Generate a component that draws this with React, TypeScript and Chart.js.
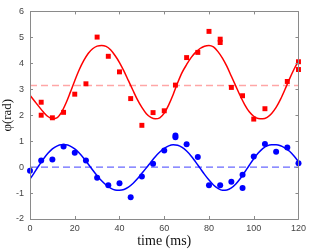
import React, { useEffect, useRef } from "react";
import { Chart, registerables } from "chart.js";

Chart.register(...registerables);

// Measurement times (ms)
const redTimes = [5, 5, 10, 15, 20, 25, 30, 35, 40, 45, 50, 55, 60, 65, 70, 75, 80, 85, 85, 90, 95, 100, 105, 115, 120, 120];
const redValues = [2.5, 2.0, 1.9, 2.11, 2.81, 3.21, 5.01, 4.27, 3.67, 2.64, 1.61, 2.1, 2.17, 3.16, 4.22, 4.42, 5.23, 4.93, 4.8, 3.07, 2.75, 1.85, 2.25, 3.3, 4.06, 3.76];

const blueTimes = [0, 5, 10, 15, 20, 25, 30, 35, 40, 45, 50, 55, 60, 65, 65, 70, 75, 80, 85, 90, 95, 95, 100, 105, 110, 115, 120];
const blueValues = [-0.14, 0.25, 0.29, 0.79, 0.55, 0.25, -0.41, -0.7, -0.62, -1.16, -0.36, 0.13, 0.64, 1.22, 1.15, 0.88, 0.39, -0.7, -0.7, -0.56, -0.29, -0.81, 0.41, 0.89, 0.59, 0.76, 0.15];

// Fitted curves, sampled every 2 ms
const fitTimes = [0, 2, 4, 6, 8, 10, 12, 14, 16, 18, 20, 22, 24, 26, 28, 30, 32, 34, 36, 38, 40, 42, 44, 46, 48, 50, 52, 54, 56, 58, 60, 62, 64, 66, 68, 70, 72, 74, 76, 78, 80, 82, 84, 86, 88, 90, 92, 94, 96, 98, 100, 102, 104, 106, 108, 110, 112, 114, 116, 118, 120];
const redFit = [2.77, 2.55, 2.33, 2.12, 1.95, 1.87, 1.9, 2.1, 2.45, 2.88, 3.33, 3.75, 4.1, 4.38, 4.56, 4.66, 4.69, 4.65, 4.52, 4.3, 4.03, 3.7, 3.33, 2.96, 2.6, 2.3, 2.06, 1.92, 1.86, 1.9, 2.08, 2.4, 2.8, 3.25, 3.65, 3.95, 4.22, 4.42, 4.57, 4.66, 4.69, 4.63, 4.45, 4.2, 3.88, 3.5, 3.12, 2.74, 2.4, 2.13, 1.96, 1.87, 1.86, 1.92, 2.07, 2.3, 2.62, 3.0, 3.4, 3.77, 4.09];
const blueFit = [-0.47, -0.2, 0.06, 0.31, 0.53, 0.7, 0.81, 0.86, 0.86, 0.81, 0.7, 0.54, 0.34, 0.12, -0.11, -0.33, -0.53, -0.69, -0.81, -0.88, -0.89, -0.86, -0.77, -0.63, -0.45, -0.24, -0.03, 0.19, 0.4, 0.58, 0.72, 0.82, 0.86, 0.84, 0.76, 0.62, 0.43, 0.2, -0.04, -0.28, -0.5, -0.69, -0.82, -0.89, -0.88, -0.8, -0.65, -0.44, -0.19, 0.07, 0.32, 0.54, 0.71, 0.82, 0.86, 0.86, 0.82, 0.73, 0.61, 0.43, 0.21];

// Reference levels
const levelTimes = [0, 120];
const redLevel = [3.1416, 3.1416];
const blueLevel = [0, 0];

const xTitle = "time (ms)";
const yTitle = "φ(rad)";

const pts = (xs: number[], ys: number[]) => xs.map((x, i) => ({ x, y: ys[i] }));

const boxPlugin = {
  id: "boxTicks",
  afterDatasetsDraw(chart: any) {
    const { ctx, chartArea: a, scales } = chart;
    const xs = scales.x;
    const ys = scales.y;
    ctx.save();
    ctx.strokeStyle = "#8a8a8a";
    ctx.lineWidth = 1;
    ctx.beginPath();
    ctx.rect(Math.round(a.left) + 0.5, Math.round(a.top) + 0.5, Math.round(a.right - a.left), Math.round(a.bottom - a.top));
    ctx.stroke();
    const L = 3;
    ctx.beginPath();
    xs.ticks.forEach((t: any) => {
      const px = Math.round(xs.getPixelForValue(t.value)) + 0.5;
      ctx.moveTo(px, a.bottom);
      ctx.lineTo(px, a.bottom - L);
      ctx.moveTo(px, a.top);
      ctx.lineTo(px, a.top + L);
    });
    ys.ticks.forEach((t: any) => {
      const py = Math.round(ys.getPixelForValue(t.value)) + 0.5;
      ctx.moveTo(a.left, py);
      ctx.lineTo(a.left + L, py);
      ctx.moveTo(a.right, py);
      ctx.lineTo(a.right - L, py);
    });
    ctx.stroke();
    ctx.restore();
  },
};

export default function App() {
  const ref = useRef<HTMLCanvasElement | null>(null);
  useEffect(() => {
    if (!ref.current) return;
    const chart = new Chart(ref.current, {
      type: "scatter",
      data: {
        datasets: [
          {
            type: "line",
            data: pts(levelTimes, redLevel),
            borderColor: "rgba(255,0,0,0.35)",
            borderWidth: 1.5,
            borderDash: [7, 4],
            pointRadius: 0,
            showLine: true,
          } as any,
          {
            type: "line",
            data: pts(levelTimes, blueLevel),
            borderColor: "rgba(0,0,255,0.75)",
            borderWidth: 1,
            borderDash: [7, 4],
            pointRadius: 0,
            showLine: true,
          } as any,
          {
            type: "line",
            data: pts(fitTimes, redFit),
            borderColor: "#ff0000",
            borderWidth: 1.5,
            pointRadius: 0,
            cubicInterpolationMode: "monotone",
            showLine: true,
          } as any,
          {
            type: "line",
            data: pts(fitTimes, blueFit),
            borderColor: "#0000ff",
            borderWidth: 1.5,
            pointRadius: 0,
            cubicInterpolationMode: "monotone",
            showLine: true,
          } as any,
          {
            data: pts(redTimes, redValues),
            pointStyle: "rect",
            pointRadius: 3.5,
            pointBorderWidth: 0,
            backgroundColor: "#ff0000",
            borderColor: "#ff0000",
            clip: false,
          } as any,
          {
            data: pts(blueTimes, blueValues),
            pointStyle: "circle",
            pointRadius: 3,
            pointBorderWidth: 0,
            backgroundColor: "#0000ff",
            borderColor: "#0000ff",
            clip: false,
          } as any,
        ],
      },
      options: {
        animation: false,
        responsive: true,
        maintainAspectRatio: false,
        layout: { padding: { top: 5, right: 9, left: 0, bottom: 0 } },
        plugins: { legend: { display: false }, tooltip: { enabled: false } },
        scales: {
          x: {
            type: "linear",
            min: 0,
            max: 120,
            ticks: { stepSize: 20, padding: 4, color: "#444", font: { size: 9, family: "'Liberation Sans', Arial, sans-serif" }, maxRotation: 0 },
            grid: { drawOnChartArea: false, drawTicks: false },
            border: { display: false },
            title: { display: true, text: xTitle, color: "#111", font: { size: 14, family: "'Liberation Serif', serif" }, padding: { top: 0, bottom: 0 } },
            afterFit: (s: any) => { s.height = 31; },
          },
          y: {
            type: "linear",
            min: -2,
            max: 6,
            ticks: { stepSize: 1, padding: 6, color: "#444", font: { size: 9, family: "'Liberation Sans', Arial, sans-serif" } },
            grid: { drawOnChartArea: false, drawTicks: false },
            border: { display: false },
            title: { display: true, text: yTitle, color: "#111", font: { size: 13, family: "'Liberation Serif', serif" }, padding: { top: 0, bottom: 0 } },
            afterFit: (s: any) => { s.width = 30; },
          },
        },
      },
      plugins: [boxPlugin],
    });
    return () => chart.destroy();
  }, []);
  return (
    <div style={{ position: "absolute", left: 0, top: 0, width: 310, height: 250 }}>
      <canvas ref={ref} />
    </div>
  );
}
